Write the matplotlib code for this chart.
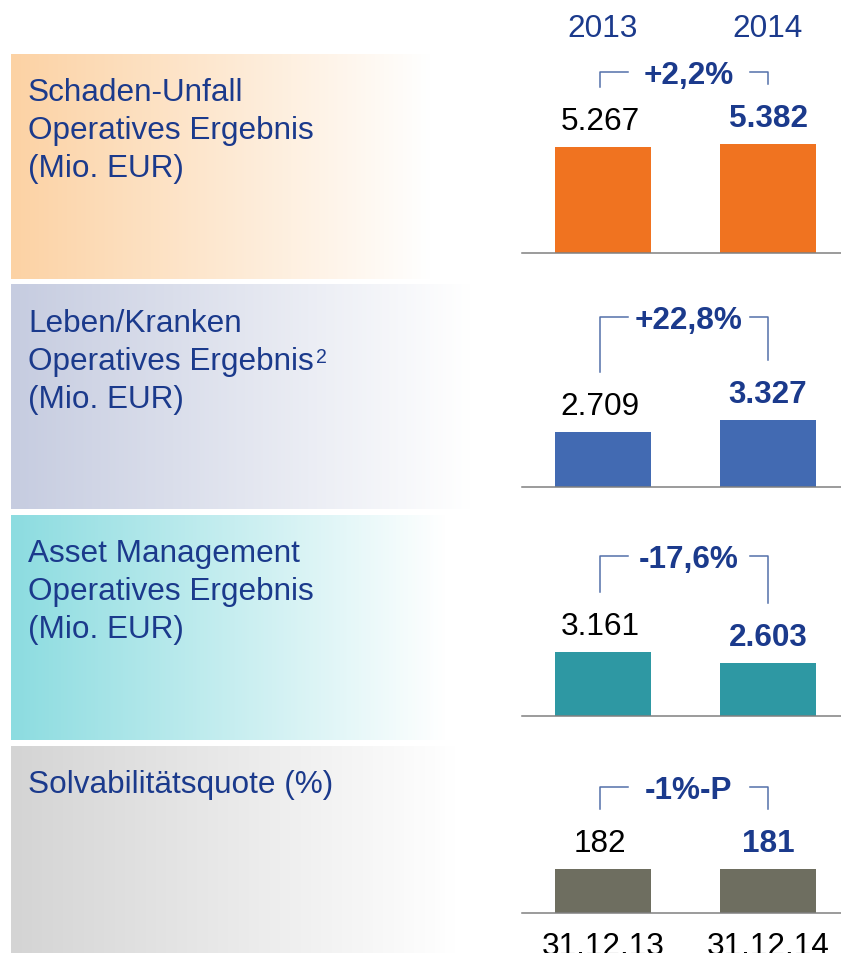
import matplotlib
matplotlib.use("Agg")
import matplotlib.pyplot as plt
import matplotlib.transforms as mtransforms
import numpy as np
from matplotlib.colors import to_rgb
from matplotlib.lines import Line2D

plt.rcParams["font.family"] = ["Liberation Sans", "DejaVu Sans"]

# --- data ---
YEARS = ["2013", "2014"]
DATES = ["31.12.13", "31.12.14"]
schaden_unfall = [5267, 5382]
leben_kranken = [2709, 3327]
asset_management = [3161, 2603]
solvabilitaet = [182, 181]
CHANGE_LABELS = ["+2,2%", "+22,8%", "-17,6%", "-1%-P"]
PANEL_TITLES = [
    ["Schaden-Unfall", "Operatives Ergebnis", "(Mio. EUR)"],
    ["Leben/Kranken", "Operatives Ergebnis", "(Mio. EUR)"],
    ["Asset Management", "Operatives Ergebnis", "(Mio. EUR)"],
    ["Solvabilitätsquote (%)"],
]
FOOTNOTES = [None, "2", None, None]   # superscript after the second title line
SERIES = [schaden_unfall, leben_kranken, asset_management, solvabilitaet]

# --- layout / style (pixels from top) ---
W, H = 841, 954
PANEL_TOP = [55, 286, 516, 747]
PANEL_BOTTOM = [280, 510, 741, 954]
BASELINE = [254, 488, 717, 914]
BRACKET_TOP = [73, 318, 557, 788]
YMAX = [9900, 9900, 9900, 830]
FADE_END = [430, 470, 445, 455]
GRAD_LEFT = ["#FCD2A4", "#C6CCE0", "#8CDCE0", "#D4D4D4"]
BAR_COLORS = ["#F07320", "#426AB2", "#2E98A3", "#6E6E60"]
DARK_BLUE = "#1B3A8C"
BRACKET_COLOR = "#5470AA"
FS = 22.7

C0, C1 = 603, 768          # pixel centres of the two categories
SPAN = C1 - C0
AX_LEFT, AX_RIGHT = 522, 841
AX_H = 200

fig = plt.figure(figsize=(W / 100, H / 100), dpi=100)
ident = mtransforms.IdentityTransform()
renderer = fig.canvas.get_renderer()

# background gradient bands
bg = fig.add_axes([0, 0, 1, 1], zorder=0)
bg.set_xlim(0, W)
bg.set_ylim(H, 0)
bg.axis("off")
xs = np.arange(11, 521)
for top, bot, left_col, fade in zip(PANEL_TOP, PANEL_BOTTOM, GRAD_LEFT, FADE_END):
    t = np.clip((xs - 11) / (fade - 11), 0, 1)
    c0 = np.array(to_rgb(left_col))
    row = c0[None, :] * (1 - t[:, None]) + np.ones(3)[None, :] * t[:, None]
    bg.imshow(row[None, :, :], extent=(11, 521, bot, top), aspect="auto",
              interpolation="bilinear")

# panel titles
for top, lines, note in zip(PANEL_TOP, PANEL_TITLES, FOOTNOTES):
    for k, line in enumerate(lines):
        yb = H - (top + 46 + 38 * k)
        t = fig.text(28, yb, line, transform=ident,
                     fontsize=FS, color=DARK_BLUE, ha="left", va="baseline")
        if note and k == 1:
            ext = t.get_window_extent(renderer)
            fig.text(ext.x1 + 2, yb + 22, note, transform=ident,
                     fontsize=FS * 0.62, color=DARK_BLUE, ha="left", va="top")

x = np.arange(2)
axes = []
for i, vals in enumerate(SERIES):
    ax = fig.add_axes([AX_LEFT / W, (H - BASELINE[i]) / H,
                       (AX_RIGHT - AX_LEFT) / W, AX_H / H], zorder=2)
    ax.patch.set_alpha(0)
    ax.bar(x, vals, width=0.58, color=BAR_COLORS[i])
    ax.set_xlim((AX_LEFT - C0) / SPAN, (AX_RIGHT - C0) / SPAN)
    ax.set_ylim(0, YMAX[i])
    for s in ("top", "right", "left"):
        ax.spines[s].set_visible(False)
    ax.spines["bottom"].set_color("#808080")
    ax.spines["bottom"].set_linewidth(1.1)
    ax.set_yticks([])
    ax.set_xticks([])
    axes.append(ax)

    for xi, v in zip(x, vals):
        txt = f"{v:,}".replace(",", ".")
        if xi == 0:
            ax.annotate(txt, (xi, v), xytext=(-3, 18), textcoords="offset pixels",
                        ha="center", va="baseline", fontsize=FS, color="black")
        else:
            ax.annotate(txt, (xi, v), xytext=(0, 18), textcoords="offset pixels",
                        ha="center", va="baseline", fontsize=FS,
                        color=DARK_BLUE, fontweight="bold")

    # change bracket
    p0 = ax.transData.transform((0, vals[0]))
    p1 = ax.transData.transform((1, vals[1]))
    xl = p0[0] - 3
    xr = p1[0]
    ytop = H - BRACKET_TOP[i]
    arm_l = ax.transData.transform((0.15, 0))[0]
    arm_r = ax.transData.transform((0.89, 0))[0]
    fig.add_artist(Line2D([xl, xl, arm_l], [p0[1] + 60, ytop, ytop],
                          transform=ident, color=BRACKET_COLOR, lw=1.1))
    fig.add_artist(Line2D([arm_r, xr, xr], [ytop, ytop, p1[1] + 60],
                          transform=ident, color=BRACKET_COLOR, lw=1.1))
    xm = ax.transData.transform((0.5, 0))[0] + 3
    fig.text(xm, ytop - 11, CHANGE_LABELS[i], transform=ident, fontsize=FS,
             color=DARK_BLUE, fontweight="bold", ha="center", va="baseline")

# year labels above the first panel
yr_tr = mtransforms.blended_transform_factory(axes[0].transData, ident)
for xi, yr in zip(x, YEARS):
    axes[0].text(xi, H - 37, yr, transform=yr_tr, fontsize=FS, color=DARK_BLUE,
                 ha="center", va="baseline", clip_on=False)

# date labels under the solvency panel
axes[3].set_xticks(x)
axes[3].set_xticklabels(DATES, fontsize=FS, color="black")
axes[3].tick_params(axis="x", length=0, pad=13)

fig.savefig("out.png", dpi=100)
